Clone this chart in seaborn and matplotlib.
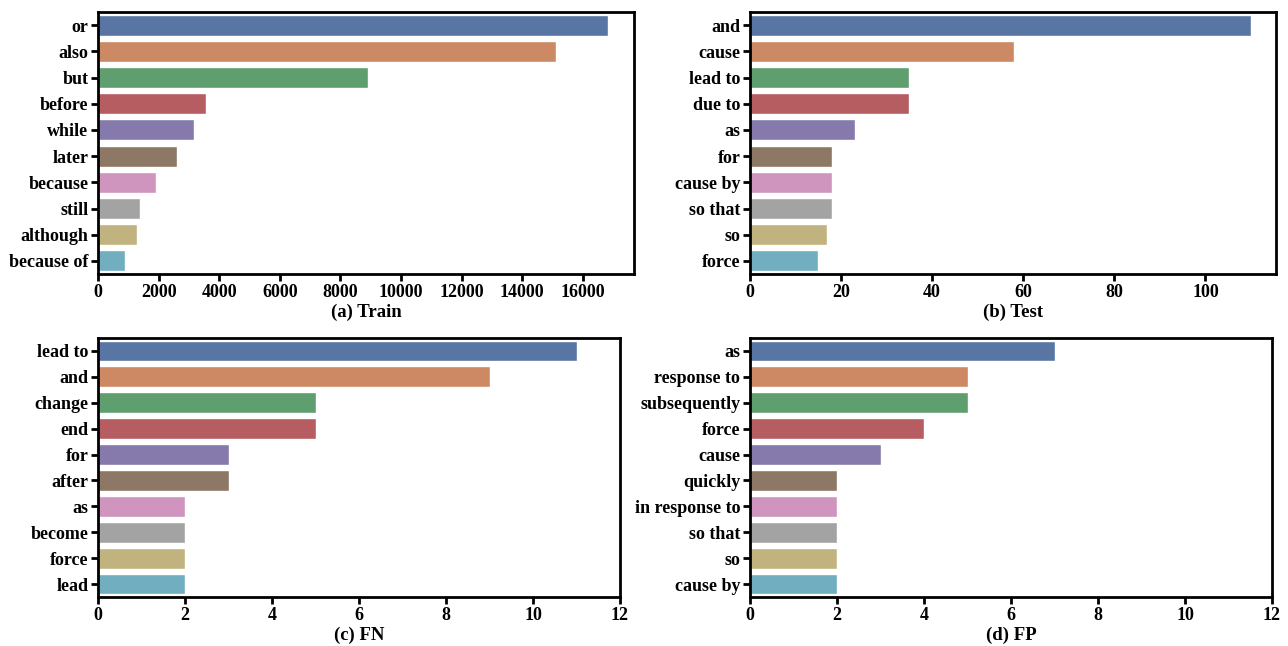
import matplotlib
matplotlib.use("Agg")
import matplotlib.pyplot as plt
import seaborn as sns
import pandas as pd

# DATA ==========================================================================================================

train_words = ["or", "also", "but", "before", "while", "later", "because", "still", "although", "because of"]
train_counts = [16850, 15130, 8900, 3570, 3180, 2620, 1930, 1370, 1280, 880]

test_words = ["and", "cause", "lead to", "due to", "as", "for", "cause by", "so that", "so", "force"]
test_counts = [110, 58, 35, 35, 23, 18, 18, 18, 17, 15]

fn_words = ["lead to", "and", "change", "end", "for", "after", "as", "become", "force", "lead"]
fn_counts = [11, 9, 5, 5, 3, 3, 2, 2, 2, 2]

fp_words = ["as", "response to", "subsequently", "force", "cause", "quickly", "in response to", "so that", "so",
            "cause by"]
fp_counts = [7, 5, 5, 4, 3, 2, 2, 2, 2, 2]

panels = [
    ("(a) Train", train_words, train_counts, None),
    ("(b) Test", test_words, test_counts, None),
    ("(c) FN", fn_words, fn_counts, 12),
    ("(d) FP", fp_words, fp_counts, 12),
]

# PLOTTER =======================================================================================================

sns.set_theme(style="ticks", palette="deep")
plt.rcParams["font.family"] = ["Liberation Serif", "DejaVu Serif"]
plt.rcParams["font.weight"] = "bold"

# deep palette, but with the grey a bit lighter like in the paper figure
palette = sns.color_palette("deep", 10)
palette[7] = (0.64, 0.64, 0.64)

fig, axes = plt.subplots(2, 2, figsize=(12.88, 6.46), dpi=100)

# axes boxes in pixels: left, top, right, bottom
boxes = [(98, 12, 634, 274), (750, 12, 1276, 274), (98, 338, 620, 597), (750, 338, 1272, 597)]

for ax, (title, words, counts, xmax), box in zip(axes.flat, panels, boxes):
    df = pd.DataFrame({"word": words, "count": counts})
    sns.barplot(data=df, x="count", y="word", hue="word", palette=palette, legend=False, ax=ax)
    if xmax is not None:
        ax.set_xlim(0, xmax)
    ax.set_ylabel("")
    ax.set_xlabel(title, fontsize=13.5, fontweight="bold", labelpad=2, color="black")
    ax.tick_params(axis="both", labelsize=13, width=2, length=5, pad=2, colors="black")
    for lab in ax.get_xticklabels() + ax.get_yticklabels():
        lab.set_fontweight("bold")
    for sp in ax.spines.values():
        sp.set_linewidth(2)
        sp.set_color("black")
    l, t, r, b = box
    ax.set_position([l / 1288, 1 - b / 646, (r - l) / 1288, (b - t) / 646])

plt.savefig("out.png", dpi=100)
